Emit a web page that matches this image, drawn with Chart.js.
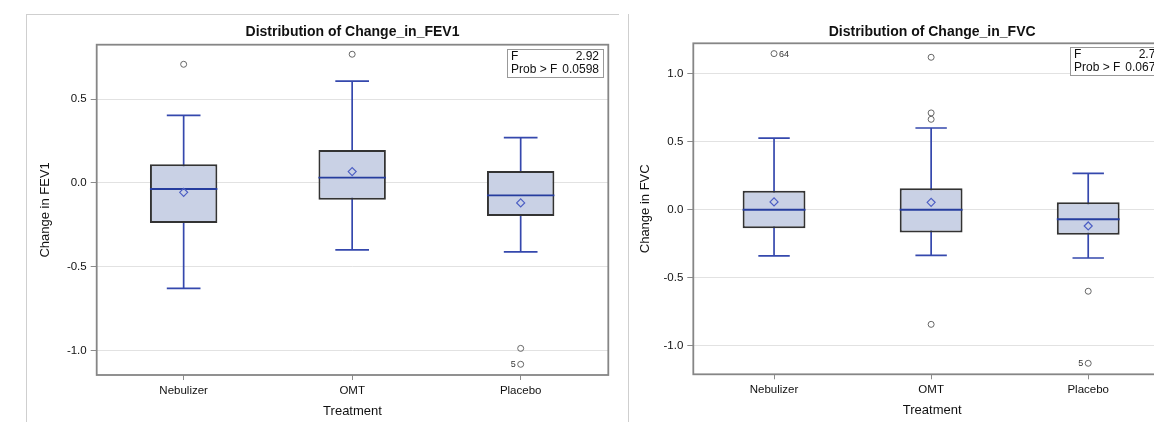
<!DOCTYPE html>
<html>
<head>
<meta charset="utf-8">
<script src="https://cdn.jsdelivr.net/npm/chart.js@4.4.1/dist/chart.umd.min.js"></script>
<style>
	html, body { margin: 0; padding: 0; background: #fff; overflow: hidden; width: 1154px; height: 422px; }
	.frame { position: absolute; top: 14px; height: 408px; border-left: 1px solid #cfcfcf; }
	#frameLeft { left: 26px; width: 592px; border-top: 1px solid #cfcfcf; }
	#frameRight { left: 628px; width: 0; }
	canvas { position: absolute; top: 14px; }
	#fev1 { left: 26px; }
	#fvc { left: 628px; }
</style>
</head>
<body>
<div class="frame" id="frameLeft"></div>
<div class="frame" id="frameRight"></div>
<canvas id="fev1" width="602" height="408"></canvas>
<canvas id="fvc" width="580" height="408"></canvas>
<script>
// categories
const treatments = ['Nebulizer', 'OMT', 'Placebo']
const yTickValues = [-1.0, -0.5, 0.0, 0.5, 1.0]

// Change in FEV1
const fev1Q1 = [-0.239, -0.100, -0.197]
const fev1Q3 = [0.112, 0.197, 0.072]
const fev1Median = [-0.036, 0.032, -0.074]
const fev1Mean = [-0.056, 0.068, -0.119]
const fev1WhiskerLow = [-0.629, -0.400, -0.412]
const fev1WhiskerHigh = [0.404, 0.609, 0.271]
const fev1Outliers = [[0.709], [0.769], [-0.988, -1.083]]
const fev1OutlierIds = [[''], [''], ['', '5']]
const fev1F = '2.92'
const fev1P = '0.0598'

// Change in FVC
const fvcQ1 = [-0.137, -0.169, -0.184]
const fvcQ3 = [0.140, 0.158, 0.054]
const fvcMedian = [0.0, 0.0, -0.071]
const fvcMean = [0.057, 0.054, -0.120]
const fvcWhiskerLow = [-0.341, -0.336, -0.356]
const fvcWhiskerHigh = [0.528, 0.602, 0.268]
const fvcOutliers = [[1.150], [1.123, 0.713, 0.666, -0.845], [-0.601, -1.132]]
const fvcOutlierIds = [['64'], ['', '', '', ''], ['', '5']]
const fvcF = '2.78'
const fvcP = '0.0678'

const FONT = '"Liberation Sans", Arial, sans-serif'
Chart.defaults.font.family = FONT
Chart.defaults.color = '#111'

const BOX_HALF = 0.2
const CAP_HALF = 0.1

//border round the plot area
const plotFrame = {
	id: 'plotFrame',
	afterDatasetsDraw(chart) {
		const { ctx, chartArea: a } = chart
		ctx.save()
		ctx.strokeStyle = '#868686'
		ctx.lineWidth = 1.8
		ctx.strokeRect(a.left, a.top, a.right - a.left, a.bottom - a.top)
		ctx.restore()
	}
}

//F / Prob > F inset
const statsBox = {
	id: 'statsBox',
	afterDraw(chart, args, opts) {
		const { ctx, chartArea: a } = chart
		const w = 96, h = 28
		const x = Math.round(a.right - 5 - w), y = Math.round(a.top + 4)
		ctx.save()
		ctx.fillStyle = '#fff'
		ctx.fillRect(x, y, w, h)
		ctx.strokeStyle = '#999'
		ctx.lineWidth = 1
		ctx.strokeRect(x + 0.5, y + 0.5, w, h)
		ctx.font = '12px ' + FONT
		ctx.fillStyle = '#111'
		ctx.textBaseline = 'middle'
		ctx.textAlign = 'left'
		ctx.fillText('F', x + 4, y + 7.5)
		ctx.fillText('Prob > F', x + 4, y + 21)
		ctx.textAlign = 'right'
		ctx.fillText(opts.f, x + w - 4, y + 7.5)
		ctx.fillText(opts.p, x + w - 4, y + 21)
		ctx.restore()
	}
}

//observation numbers next to some outliers
const outlierLabels = {
	id: 'outlierLabels',
	afterDatasetsDraw(chart, args, opts) {
		const meta = chart.getDatasetMeta(opts.datasetIndex)
		const { ctx } = chart
		ctx.save()
		ctx.font = '9px ' + FONT
		ctx.fillStyle = '#333'
		ctx.textBaseline = 'middle'
		meta.data.forEach((pt, i) => {
			const id = opts.ids[i]
			if (!id) return
			if (opts.side[id] === 'right') {
				ctx.textAlign = 'left'
				ctx.fillText(id, pt.x + 5, pt.y + 0.5)
			} else {
				ctx.textAlign = 'right'
				ctx.fillText(id, pt.x - 5, pt.y + 0.5)
			}
		})
		ctx.restore()
	}
}

function makeBoxChart(canvasId, d, lay) {
	const blue = '#3548ad'
	const datasets = []

	datasets.push({
		type: 'scatter',
		data: d.mean.map((v, i) => ({ x: i + 1, y: v })),
		pointStyle: 'rectRot',
		pointRadius: 4,
		borderColor: '#4d5fc4',
		backgroundColor: 'rgba(0,0,0,0)',
		borderWidth: 1.2
	})

	const outlierPts = []
	const outlierIdList = []
	d.outliers.forEach((vals, i) => {
		vals.forEach((v, j) => {
			outlierPts.push({ x: i + 1, y: v })
			outlierIdList.push(d.outlierIds[i][j])
		})
	})
	datasets.push({
		type: 'scatter',
		data: outlierPts,
		pointStyle: 'circle',
		pointRadius: 3,
		borderColor: '#666',
		backgroundColor: 'rgba(0,0,0,0)',
		borderWidth: 1
	})

	d.median.forEach((m, i) => {
		datasets.push({
			type: 'scatter',
			showLine: true,
			data: [{ x: i + 1 - BOX_HALF, y: m }, { x: i + 1 + BOX_HALF, y: m }],
			borderColor: '#263d9e',
			borderWidth: 1.9,
			pointRadius: 0
		})
	})

	datasets.push({
		type: 'bar',
		data: d.q1.map((v, i) => ({ x: i + 1, y: [v, d.q3[i]] })),
		backgroundColor: '#c9d1e5',
		borderColor: '#333',
		borderWidth: 2,
		borderSkipped: false,
		categoryPercentage: 1,
		barPercentage: 2 * BOX_HALF
	})

	d.low.forEach((lo, i) => {
		const c = i + 1
		const hi = d.high[i]
		datasets.push({
			type: 'scatter',
			showLine: true,
			data: [
				{ x: c - CAP_HALF, y: hi }, { x: c + CAP_HALF, y: hi }, { x: c, y: hi },
				{ x: c, y: lo }, { x: c - CAP_HALF, y: lo }, { x: c + CAP_HALF, y: lo }
			],
			borderColor: blue,
			borderWidth: 1.7,
			pointRadius: 0
		})
	})

	return new Chart(document.getElementById(canvasId), {
		type: 'scatter',
		data: { datasets },
		plugins: [plotFrame, statsBox, outlierLabels],
		options: {
			responsive: false,
			devicePixelRatio: 1,
			animation: false,
			events: [],
			layout: { padding: { top: 0, left: 0, bottom: 0, right: lay.padRight } },
			scales: {
				x: {
					type: 'linear',
					min: lay.xMin,
					max: lay.xMax,
					offset: false,
					afterFit: s => { s.height = lay.xHeight },
					afterBuildTicks: s => { s.ticks = treatments.map((t, i) => ({ value: i + 1 })) },
					ticks: {
						callback: v => treatments[Math.round(v) - 1],
						font: { size: 11.5 },
						color: '#111',
						padding: 4,
						maxRotation: 0
					},
					grid: { drawOnChartArea: false, offset: false, tickColor: '#8c8c8c', tickLength: 5 },
					border: { display: false },
					title: { display: true, text: 'Treatment', font: { size: 13 }, color: '#111', padding: { top: 4, bottom: lay.xTitlePad } }
				},
				y: {
					type: 'linear',
					min: d.yMin,
					max: d.yMax,
					afterFit: s => { s.width = lay.yWidth },
					afterBuildTicks: s => { s.ticks = yTickValues.filter(v => v >= d.yMin && v <= d.yMax).map(v => ({ value: v })) },
					ticks: {
						callback: v => v.toFixed(1),
						font: { size: 11.5 },
						color: '#111',
						padding: 4
					},
					grid: { color: '#e2e2e2', tickColor: '#8c8c8c', tickLength: 6 },
					border: { display: false },
					title: { display: true, text: d.yTitle, font: { size: 13 }, color: '#111', padding: { top: lay.yTitlePad, bottom: 0 } }
				}
			},
			plugins: {
				legend: { display: false },
				tooltip: { enabled: false },
				title: {
					display: true,
					fullSize: false,
					text: d.title,
					font: { size: 14, weight: 'bold' },
					color: '#111',
					padding: { top: lay.titleTop, bottom: lay.titleBottom }
				},
				statsBox: { f: d.f, p: d.p },
				outlierLabels: { datasetIndex: 1, ids: outlierIdList, side: { '5': 'left', '64': 'right' } }
			}
		}
	})
}

const fev1Chart = makeBoxChart('fev1', {
	q1: fev1Q1, q3: fev1Q3, median: fev1Median, mean: fev1Mean,
	low: fev1WhiskerLow, high: fev1WhiskerHigh,
	outliers: fev1Outliers, outlierIds: fev1OutlierIds,
	f: fev1F, p: fev1P,
	yMin: -1.147, yMax: 0.826,
	title: 'Distribution of Change_in_FEV1', yTitle: 'Change in FEV1'
}, { xMin: 0.484, xMax: 3.52, yWidth: 70.7, xHeight: 47, padRight: 19.7, titleTop: 9.4, titleBottom: 4.5, yTitlePad: 11.5, xTitlePad: 2.5 })

const fvcChart = makeBoxChart('fvc', {
	q1: fvcQ1, q3: fvcQ3, median: fvcMedian, mean: fvcMean,
	low: fvcWhiskerLow, high: fvcWhiskerHigh,
	outliers: fvcOutliers, outlierIds: fvcOutlierIds,
	f: fvcF, p: fvcP,
	yMin: -1.213, yMax: 1.226,
	title: 'Distribution of Change_in_FVC', yTitle: 'Change in FVC'
}, { xMin: 0.486, xMax: 3.527, yWidth: 65.3, xHeight: 47.7, padRight: 37, titleTop: 9.4, titleBottom: 3.1, yTitlePad: 10, xTitlePad: 3.5 })
</script>
</body>
</html>
